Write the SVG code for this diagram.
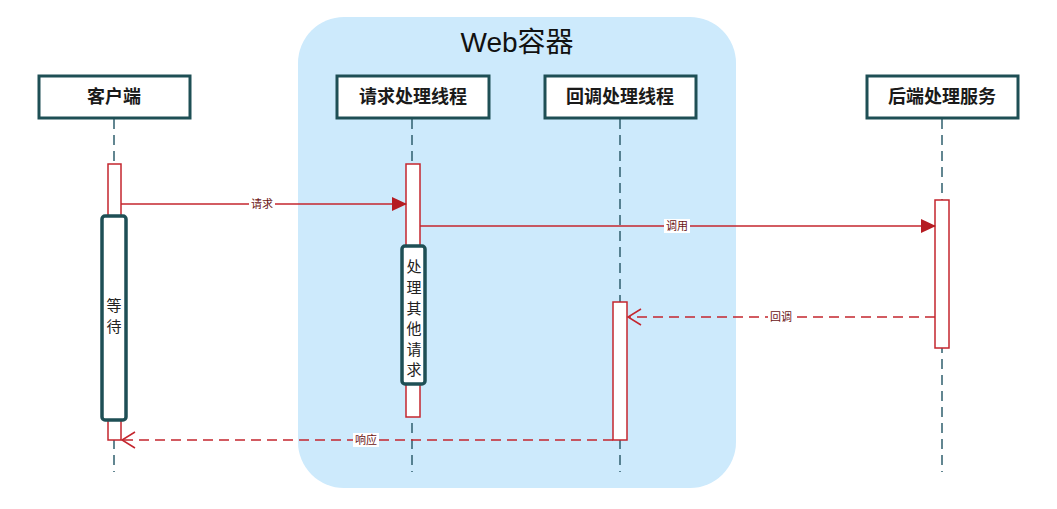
<svg xmlns="http://www.w3.org/2000/svg" width="1057" height="509" viewBox="0 0 1057 509">
<style>
.hdr{fill:#ffffff;stroke:#1e4f55;stroke-width:3}
.hdrt{font-family:"Liberation Sans","Noto Sans CJK SC",sans-serif;font-size:18px;font-weight:bold;fill:#1a1a1a;text-anchor:middle}
.life{stroke:#2f5f6e;stroke-width:1.5;stroke-dasharray:10,6;fill:none}
.act{fill:#ffffff;stroke:#c4262e;stroke-width:1.5}
.note{fill:#ffffff;stroke:#1e4f55;stroke-width:3.5}
.nt{font-family:"Liberation Sans","Noto Sans CJK SC",sans-serif;font-size:15px;fill:#222;text-anchor:middle}
.msg{stroke:#c4262e;stroke-width:1.5;fill:none}
.dash{stroke-dasharray:10,6}
.lbl{font-family:"Liberation Sans","Noto Sans CJK SC",sans-serif;font-size:11px;fill:#6b1414;text-anchor:middle}
.lblbg{fill:#ffffff}
</style>
<defs>
<marker id="fill" markerWidth="15" markerHeight="14" refX="14" refY="7" orient="auto" markerUnits="userSpaceOnUse">
<path d="M0,0 L15,7 L0,14 Z" fill="#b51c22"/>
</marker>
<marker id="open" markerWidth="16" markerHeight="18" refX="14" refY="9" orient="auto" markerUnits="userSpaceOnUse">
<path d="M1,1 L14,9 L1,17" fill="none" stroke="#c4262e" stroke-width="1.5"/>
</marker>
</defs>
<rect width="1057" height="509" fill="#ffffff"/>
<g id="web-container">
<rect x="298" y="17" width="438" height="471" rx="46" ry="46" fill="#cdeafc"/>
<text x="517" y="52" font-family="'Liberation Sans','Noto Sans CJK SC',sans-serif" font-size="28" fill="#111" text-anchor="middle">Web容器</text>
</g>
<g id="lifelines">
<line class="life" x1="114" y1="119" x2="114" y2="472"/>
<line class="life" x1="412" y1="119" x2="412" y2="472"/>
<line class="life" x1="620" y1="119" x2="620" y2="472"/>
<line class="life" x1="942" y1="119" x2="942" y2="472"/>
</g>
<g id="client">
<rect class="hdr" x="39" y="76" width="151" height="42"/>
<text class="hdrt" x="114" y="103">客户端</text>
<rect class="act" x="108" y="164" width="13" height="276"/>
<rect class="note" x="102" y="216" width="24" height="204" rx="3"/>
<text class="nt" x="114" y="311">等</text>
<text class="nt" x="114" y="332">待</text>
</g>
<g id="request-thread">
<rect class="hdr" x="337" y="76" width="152" height="42"/>
<text class="hdrt" x="413" y="103">请求处理线程</text>
<rect class="act" x="406" y="164" width="14" height="253"/>
<rect class="note" x="402" y="246" width="23" height="138" rx="3"/>
<text class="nt" x="414" y="272">处</text>
<text class="nt" x="414" y="293">理</text>
<text class="nt" x="414" y="314">其</text>
<text class="nt" x="414" y="334">他</text>
<text class="nt" x="414" y="355">请</text>
<text class="nt" x="414" y="375">求</text>
</g>
<g id="callback-thread">
<rect class="hdr" x="545" y="76" width="151" height="42"/>
<text class="hdrt" x="620" y="103">回调处理线程</text>
<rect class="act" x="613" y="302" width="14" height="138"/>
</g>
<g id="backend">
<rect class="hdr" x="867" y="76" width="151" height="42"/>
<text class="hdrt" x="942" y="103">后端处理服务</text>
<rect class="act" x="935" y="200" width="14" height="148"/>
</g>
<g id="connectors">
<line class="msg" x1="121" y1="204" x2="406" y2="204" marker-end="url(#fill)"/>
<rect class="lblbg" x="249" y="197" width="26" height="14"/>
<text class="lbl" x="262" y="208">请求</text>
<line class="msg" x1="420" y1="226" x2="935" y2="226" marker-end="url(#fill)"/>
<rect class="lblbg" x="664" y="219" width="26" height="14"/>
<text class="lbl" x="677" y="230">调用</text>
<line class="msg dash" x1="935" y1="317" x2="628" y2="317" marker-end="url(#open)"/>
<rect class="lblbg" x="768" y="310" width="26" height="14"/>
<text class="lbl" x="781" y="321">回调</text>
<line class="msg dash" x1="613" y1="440" x2="122" y2="440" marker-end="url(#open)"/>
<rect class="lblbg" x="353" y="433" width="26" height="14"/>
<text class="lbl" x="366" y="444">响应</text>
</g>
</svg>
